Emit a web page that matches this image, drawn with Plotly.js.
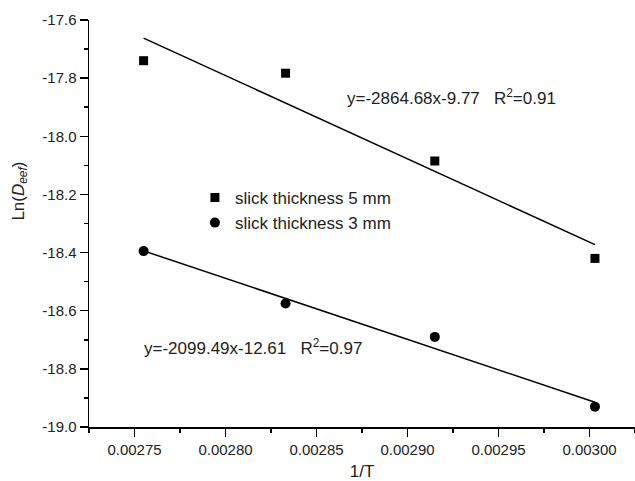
<!DOCTYPE html>
<html>
<head>
<meta charset="utf-8">
<script src="https://cdn.plot.ly/plotly-3.0.1.min.js"></script>
<style>html,body{margin:0;padding:0;background:#fff;}#chart{width:635px;height:481px;}</style>
</head>
<body>
<div id="chart"></div>
<script>
// Data
var invT = [0.002755, 0.002833, 0.002915, 0.003003];
var lnD5 = [-17.74, -17.783, -18.085, -18.42];
var lnD3 = [-18.395, -18.575, -18.69, -18.93];
var seriesNames = ['slick thickness 5 mm', 'slick thickness 3 mm'];
var fit5 = {slope: -2864.68, intercept: -9.77, r2: '0.91'};
var fit3 = {slope: -2099.49, intercept: -12.61, r2: '0.97'};
var xTickVals = [0.00275, 0.00280, 0.00285, 0.00290, 0.00295, 0.00300];
var xTickLabels = ['0.00275', '0.00280', '0.00285', '0.00290', '0.00295', '0.00300'];
var yTickVals = [-17.6, -17.8, -18.0, -18.2, -18.4, -18.6, -18.8, -19.0];
var yTickLabels = ['-17.6', '-17.8', '-18.0', '-18.2', '-18.4', '-18.6', '-18.8', '-19.0'];

function fitLine(f) {
  var xs = [invT[0], invT[invT.length - 1]];
  return {x: xs, y: xs.map(function (v) { return f.slope * v + f.intercept; })};
}
var l5 = fitLine(fit5), l3 = fitLine(fit3);
var FONT = 'Liberation Sans, Arial, sans-serif';

var traces = [
  {x: l5.x, y: l5.y, mode: 'lines', line: {color: '#000', width: 1.5}, showlegend: false, hoverinfo: 'skip'},
  {x: l3.x, y: l3.y, mode: 'lines', line: {color: '#000', width: 1.5}, showlegend: false, hoverinfo: 'skip'},
  {x: invT, y: lnD5, mode: 'markers', name: seriesNames[0], marker: {symbol: 'square', size: 9, color: '#000'}},
  {x: invT, y: lnD3, mode: 'markers', name: seriesNames[1], marker: {symbol: 'circle', size: 10, color: '#000'}}
];

var axisCommon = {
  showgrid: false, zeroline: false, showline: true, linecolor: '#000', linewidth: 1.5,
  ticks: 'outside', ticklen: 8, tickwidth: 1.5, tickcolor: '#000',
  tickfont: {family: FONT, size: 15, color: '#222'}, mirror: false
};

var layout = {
  width: 635, height: 481,
  margin: {l: 89, r: 0, t: 20, b: 54},
  paper_bgcolor: '#fff', plot_bgcolor: '#fff',
  font: {family: FONT, color: '#222'},
  xaxis: Object.assign({}, axisCommon, {
    range: [0.002725, 0.003025], tickmode: 'array', tickvals: xTickVals, ticktext: xTickLabels,
    minor: {ticks: 'outside', ticklen: 4, tickwidth: 1.5, tickcolor: '#000', dtick: 0.000025, tick0: 0.00275, showgrid: false},
    title: {text: '1/T', font: {family: FONT, size: 17, color: '#222'}, standoff: 8}
  }),
  yaxis: Object.assign({}, axisCommon, {
    range: [-19.0, -17.6], tickmode: 'array', tickvals: yTickVals, ticktext: yTickLabels,
    minor: {ticks: 'outside', ticklen: 4, tickwidth: 1.5, tickcolor: '#000', dtick: 0.1, tick0: -19.0, showgrid: false}
  }),
  showlegend: true,
  legend: {x: 0.194, y: 0.607, xanchor: 'left', yanchor: 'top', bgcolor: 'rgba(0,0,0,0)',
    font: {family: FONT, size: 17, color: '#222'}, tracegroupgap: 0},
  annotations: [
    {xref: 'paper', yref: 'paper', x: 0.469, y: 0.811, xanchor: 'left', yanchor: 'middle', showarrow: false,
     text: 'y=' + fit5.slope.toFixed(2) + 'x' + fit5.intercept.toFixed(2) + '&nbsp;&nbsp;&nbsp;R<sup>2</sup>=' + fit5.r2,
     font: {family: FONT, size: 17, color: '#222'}},
    {xref: 'paper', yref: 'paper', x: 0.0965, y: 0.197, xanchor: 'left', yanchor: 'middle', showarrow: false,
     text: 'y=' + fit3.slope.toFixed(2) + 'x' + fit3.intercept.toFixed(2) + '&nbsp;&nbsp;&nbsp;R<sup>2</sup>=' + fit3.r2,
     font: {family: FONT, size: 17, color: '#222'}},
    {xref: 'paper', yref: 'paper', x: -0.127, y: 0.58, xanchor: 'center', yanchor: 'middle', showarrow: false, textangle: -90,
     text: 'Ln(<i>D</i><sub><i>eef</i></sub>)', font: {family: FONT, size: 17, color: '#222'}}
  ]
};

Plotly.newPlot('chart', traces, layout, {staticPlot: true, displayModeBar: false});
</script>
</body>
</html>
